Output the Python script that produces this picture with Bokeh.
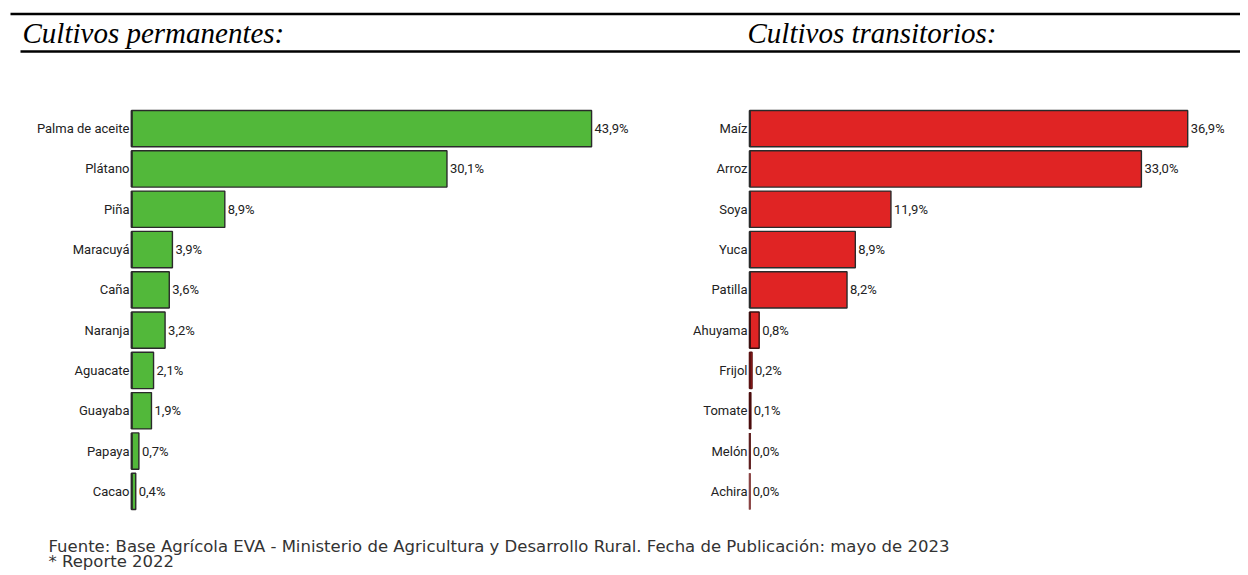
from bokeh.plotting import figure
from bokeh.models import Range1d, FactorRange, ColumnDataSource, LabelSet
from bokeh.layouts import column, row
from bokeh.transform import dodge
from bokeh.embed import file_html
from bokeh.resources import INLINE
from bokeh.core.properties import value

# ---------------- data ----------------
perm_cats = ["Palma de aceite", "Plátano", "Piña", "Maracuyá", "Caña",
             "Naranja", "Aguacate", "Guayaba", "Papaya", "Cacao"]
perm_vals = [43.9, 30.1, 8.9, 3.9, 3.6, 3.2, 2.1, 1.9, 0.7, 0.4]

trans_cats = ["Maíz", "Arroz", "Soya", "Yuca", "Patilla",
              "Ahuyama", "Frijol", "Tomate", "Melón", "Achira"]
trans_vals = [36.9, 33.0, 11.9, 8.9, 8.2, 0.8, 0.2, 0.1, 0.0, 0.0]

title_left = "Cultivos permanentes:"
title_right = "Cultivos transitorios:"
source_note = ("Fuente: Base Agrícola EVA - Ministerio de Agricultura y Desarrollo Rural. "
               "Fecha de Publicación: mayo de 2023")
report_note = "* Reporte 2022"

# ---------------- styles ----------------
GREEN = "#52B83A"
RED = "#E02424"
DARK = "#2a2a2a"
perm_fill = [GREEN] * len(perm_vals)
perm_line = [DARK] * len(perm_vals)
trans_fill = [RED, RED, RED, RED, RED, RED, "#C42020", "#4A0C0C", "#5E1E1E", "#8A4444"]
trans_line = [DARK, DARK, DARK, DARK, DARK, "#3a1010",
              "#5a1212", "#4A0C0C", "#5E1E1E", "#8A4444"]

LABEL_FONT = "Roboto"
LABEL_SIZE = "13px"


def fmt(v):
    return f"{v:.1f}".replace(".", ",") + "%"


def bar_fig(cats, vals, fills, lines, width, left, xmin, xmax, right):
    src = ColumnDataSource(dict(cat=cats, val=vals, fill=fills, line=lines,
                                lab=[fmt(v) for v in vals]))
    p = figure(width=width, height=443,
               y_range=FactorRange(factors=list(reversed(cats))),
               x_range=Range1d(xmin, xmax),
               output_backend="svg", toolbar_location=None,
               min_border_left=left, min_border_right=right,
               min_border_top=40, min_border_bottom=0)
    p.hbar(y="cat", left=0, right="val", height=0.9, fill_color="fill",
           line_color="line", line_width=1.4, source=src)
    # left edge of each bar (keeps zero-valued bars visible as in the source)
    p.segment(x0=0, x1=0,
              y0=dodge("cat", -0.45, range=p.y_range),
              y1=dodge("cat", 0.45, range=p.y_range),
              line_color="line", line_width=2.5, source=src)
    p.add_layout(LabelSet(x="val", y="cat", text="lab", x_offset=3,
                          text_baseline="middle", text_align="left",
                          text_font=value(LABEL_FONT), text_font_size=LABEL_SIZE,
                          text_color="#222222", source=src))
    p.xaxis.visible = False
    p.yaxis.axis_line_color = None
    p.yaxis.major_tick_line_color = None
    p.yaxis.minor_tick_line_color = None
    p.yaxis.major_tick_out = 0
    p.yaxis.major_tick_in = 0
    p.yaxis.major_label_standoff = 1
    p.yaxis.major_label_text_font = LABEL_FONT
    p.yaxis.major_label_text_font_size = LABEL_SIZE
    p.yaxis.major_label_text_color = "#222222"
    p.xgrid.visible = False
    p.ygrid.visible = False
    p.outline_line_color = None
    return p


def blank_fig(width, height):
    p = figure(width=width, height=height, x_range=Range1d(0, width),
               y_range=Range1d(height, 0), output_backend="svg",
               toolbar_location=None, min_border=0)
    p.axis.visible = False
    p.grid.visible = False
    p.outline_line_color = None
    return p


W_TOTAL = 1240

# header
header = blank_fig(W_TOTAL, 68)
header.segment(x0=[10, 20], y0=[13.5, 51], x1=[W_TOTAL, W_TOTAL], y1=[13.5, 51],
               line_color="black", line_width=2.4)
header.text(x=[22, 747], y=[32, 32], text=[title_left, title_right],
            text_font=value("Liberation Serif"), text_font_style="italic",
            text_font_size="29px", text_color="black",
            text_baseline="alphabetic", text_align="left")

left = bar_fig(perm_cats, perm_vals, perm_fill, perm_line, 660, 130, -0.1, 50, 5)
right = bar_fig(trans_cats, trans_vals, trans_fill, trans_line, 580, 88, -0.1, 40, 16)

footer = blank_fig(W_TOTAL, 61)
footer.text(x=[48, 48], y=[35, 50], text=[source_note, report_note],
            text_font=value("DejaVu Sans"), text_font_size="16.5px",
            text_color="#333333", text_baseline="middle", text_align="left")

layout = column(header, row(left, right), footer)
open("out.html", "w").write(file_html(layout, INLINE))
